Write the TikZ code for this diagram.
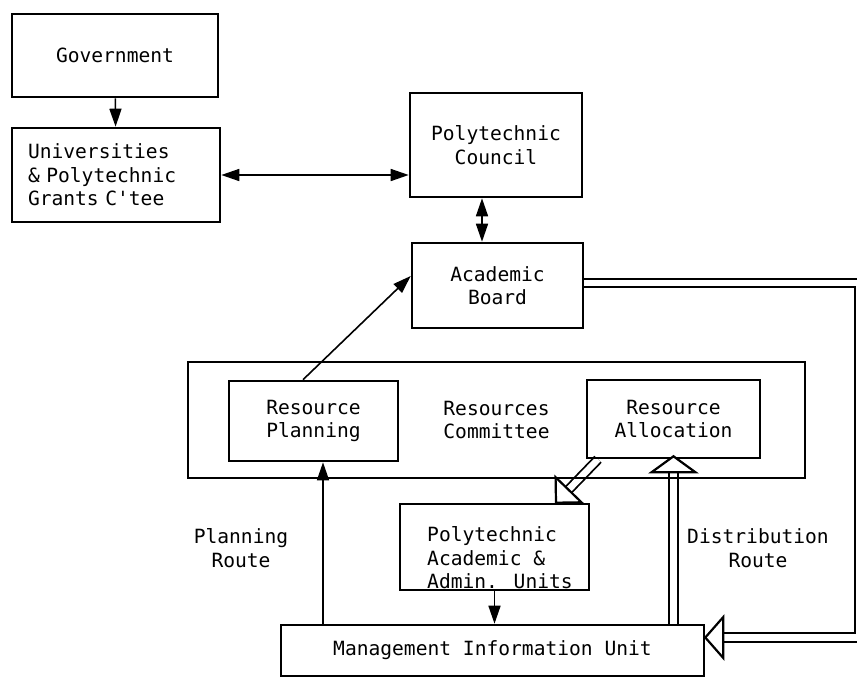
\documentclass[tikz,border=0pt]{standalone}
\usepackage{fontspec}
\newfontfamily\twfam[Ligatures=TeXOff]{DejaVu Sans Mono}
\newcommand\twfont{\twfam\fontsize{19.6pt}{23.5pt}\selectfont}
\usetikzlibrary{arrows.meta,calc}
\pgfdeclarelayer{bg}
\pgfsetlayers{bg,main}
\begin{document}
\begin{tikzpicture}[x=1pt,y=-1pt,
  box/.style={draw, line width=2.6pt, rectangle, inner sep=0pt, align=center, font=\twfont},
  txt/.style={inner sep=0pt, align=center, font=\twfont},
  arr/.style={line width=1.6pt, -{Triangle[length=18pt,width=12pt]}},
  darr/.style={line width=1.6pt, {Triangle[length=18pt,width=12pt]}-{Triangle[length=18pt,width=12pt]}},
  dbl/.style={draw, line width=1.8pt, double=white, double distance=6.5pt, line join=miter},
  openhead/.style={draw, fill=white, line width=2.2pt, line join=miter}]
\useasboundingbox (0,0) rectangle (857,678);
% boxes
\node[box, minimum width=206pt, minimum height=83pt] (gov) at (115,55.5) {Government};
\node[box, minimum width=208pt, minimum height=94pt, text width=176pt, inner xsep=16pt, align=left] (ugc) at (116,175) {Universities\\\& Polytechnic\\Grants C'tee};
\node[box, minimum width=172pt, minimum height=104pt] (council) at (496,145) {Polytechnic\\Council};
\node[box, minimum width=171pt, minimum height=85pt] (board) at (497.5,285.5) {Academic\\Board};
\node[box, minimum width=617pt, minimum height=116pt] (rc) at (496.5,420) {Resources\\Committee};
\node[box, minimum width=169pt, minimum height=80pt] (rp) at (313.5,421) {Resource\\Planning};
\node[box, minimum width=173pt, minimum height=78pt] (ra) at (673.5,419) {Resource\\Allocation};
\node[box, minimum width=189pt, minimum height=86pt] (paau) at (494.5,547) {};
\node[txt, align=left, anchor=south west, text depth=0pt] (paaut) at (427,589) {Polytechnic\\Academic \&\\Admin. Units};
\node[box, minimum width=423pt, minimum height=51pt] (miu) at (492.5,650.5) {Management Information Unit};
% labels
\node[txt] (plr) at (241,548) {Planning\\Route};
\node[txt] (dsr) at (758,548) {Distribution\\Route};
% helper coordinates
\coordinate (cb) at (482,0);
\coordinate (rpo) at (303,0);
\coordinate (abin) at (0,276);
\coordinate (pr) at (323,0);
\coordinate (rt) at (859.5,0);
\coordinate (bt) at (0,283);
\coordinate (mh) at (0,637.5);
\coordinate (dgs) at (598,0);
\coordinate (dgt) at (556,0);
% single arrows
\draw[arr] (gov) -- (ugc);
\draw[darr] (ugc.east) -- (ugc.east -| council.west);
\draw[darr] (council.south -| cb) -- (board.north -| cb);
\draw[arr] (rp.north -| rpo) -- (board.west |- abin);
\draw[arr] (miu.north -| pr) -- (rp.south -| pr);
\draw[arr] (paau.south) -- (paau.south |- miu.north);
% double routes
\coordinate (dtip) at ([yshift=3pt]ra.south);
\coordinate (mtip) at (miu.east |- mh);
\coordinate (ds) at (ra.south -| dgs);
\coordinate (dt) at (paau.north -| dgt);
\coordinate (dbc) at ($(dt)!18pt!(ds)$);
\begin{pgfonlayer}{bg}
\fill[white] (0,0) rectangle (857,678);
\draw[dbl] (ra.south |- miu.north) -- ([yshift=-15pt]dtip);
\draw[dbl] (board.east |- bt) -- (rt |- bt) -- (rt |- mh) -- ([xshift=18pt]mtip);
\draw[dbl] (ds) -- (dbc);
\end{pgfonlayer}
\draw[openhead] (dtip) -- ++(22,16) -- ++(-44,0) -- cycle;
\draw[openhead] (mtip) -- ++(18,-20.5) -- ++(0,41) -- cycle;
\draw[openhead] (dt) -- ($(dbc)!18pt!90:(dt)$) -- ($(dbc)!18pt!-90:(dt)$) -- cycle;
\end{tikzpicture}
\end{document}
